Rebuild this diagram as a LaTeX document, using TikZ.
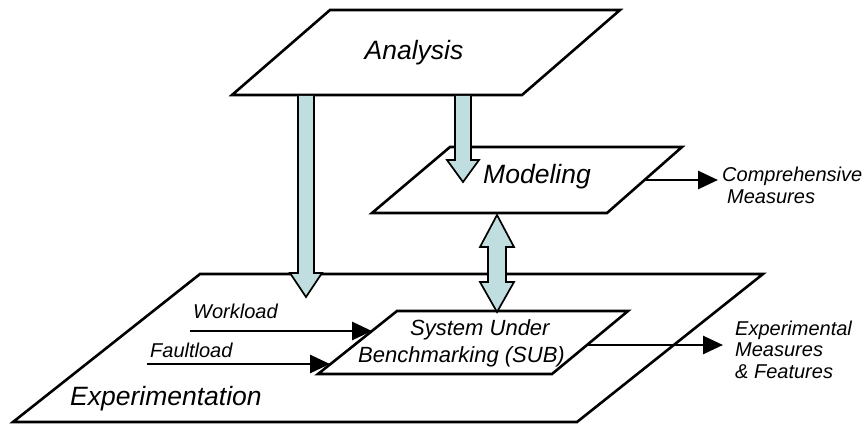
\documentclass[tikz,border=0pt]{standalone}
\usepackage{fontspec}
\setmainfont{Liberation Sans}
\usetikzlibrary{arrows.meta}
\definecolor{blockblue}{RGB}{192,222,224}

\begin{document}
\begin{tikzpicture}[x=1pt,y=-1pt,
  plane/.style={draw=black, fill=white, line width=2.6pt, line join=miter},
  block/.style={draw=black, fill=blockblue, line width=1.7pt, line join=miter},
  flow/.style={line width=2.8pt, -{Triangle[length=20pt,width=18pt]}},
  big/.style={font=\itshape\fontsize{26.5}{30}\selectfont, inner sep=0pt},
  small/.style={font=\itshape\fontsize{20}{21.5}\selectfont, align=left, inner sep=0pt},
  subtext/.style={font=\itshape\fontsize{22}{27}\selectfont, align=left, inner sep=0pt}]
\useasboundingbox (0,0) rectangle (862,425);

% corner points of the four planes
\coordinate (e1) at (200,274); \coordinate (e2) at (763,274);
\coordinate (e3) at (577,422); \coordinate (e4) at (13,422);
\coordinate (s1) at (397,311); \coordinate (s2) at (628,311);
\coordinate (s3) at (552,374); \coordinate (s4) at (318,374);
\coordinate (m1) at (450,147); \coordinate (m2) at (682,147);
\coordinate (m3) at (607,213); \coordinate (m4) at (372,213);
\coordinate (a1) at (330,10);  \coordinate (a2) at (620,10);
\coordinate (a3) at (522,95);  \coordinate (a4) at (232,95);

% planes
\draw[plane] (e1) -- (e2) -- (e3) -- (e4) -- cycle;
\draw[plane] (s1) -- (s2) -- (s3) -- (s4) -- cycle;
\draw[plane] (m1) -- (m2) -- (m3) -- (m4) -- cycle;
\draw[plane] (a1) -- (a2) -- (a3) -- (a4) -- cycle;

% block arrow from Analysis down to Experimentation
\draw[block] (298,96) -- (298,273) -- (290,273) -- (306,297) -- (322,273)
  -- (314,273) -- (314,96);
% block arrow from Analysis down to Modeling
\draw[block] (455,96) -- (455,160) -- (447,160) -- (463,182) -- (479,160)
  -- (471,160) -- (471,96);
% two-way block arrow between Modeling and the SUB
\draw[block] (497,215) -- (514,247) -- (506,247) -- (506,282) -- (514,282)
  -- (497,312) -- (480,282) -- (488,282) -- (488,247) -- (480,247) -- cycle;

% labels of the planes
\node[big, anchor=base] (analysis) at (414,60) {Analysis};
\node[big, anchor=base] (modeling) at (537,183) {Modeling};
\node[big, anchor=base west] (experimentation) at (70,405) {Experimentation};
\node[subtext, anchor=base west] (sub) at (358,362)
  {\hspace*{52pt}System Under\\Benchmarking (SUB)};

% inputs and outputs
\coordinate (wlS) at (190,331);  \coordinate (wlE) at (372,331);
\coordinate (flS) at (147,364);  \coordinate (flE) at (330,364);
\coordinate (cmS) at (644,180);  \coordinate (cmE) at (718,180);
\coordinate (exS) at (587,345);  \coordinate (exE) at (723,345);

\node[small, anchor=base west] (workload) at (193,318) {Workload};
\node[small, anchor=base west] (faultload) at (150,357) {Faultload};
\node[small, anchor=base west] (comprehensive) at (722,203)
  {Comprehensive\\\hspace*{5pt}Measures};
\node[small, anchor=base west] (experimental) at (735,378)
  {Experimental\\Measures\\\& Features};

\draw[flow] (wlS) -- (wlE);
\draw[flow] (flS) -- (flE);
\draw[flow] (cmS) -- (cmE);
\draw[flow] (exS) -- (exE);
\end{tikzpicture}
\end{document}
